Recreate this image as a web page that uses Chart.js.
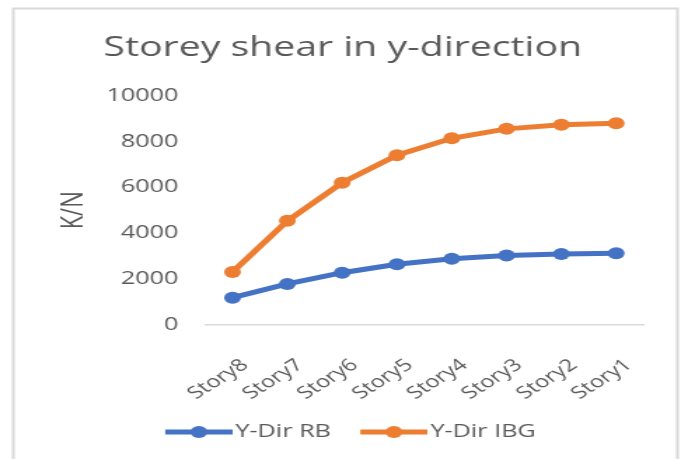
<!DOCTYPE html>
<html>
<head>
<meta charset="utf-8">
<script src="https://cdn.jsdelivr.net/npm/chart.js@4/dist/chart.umd.min.js"></script>
<style>
  html, body { margin: 0; padding: 0; background: #fff; overflow: hidden; }
  /* the reference is stretched sideways, so the chart is drawn narrow and scaled */
  #wrap { width: 486px; height: 459px; transform: scaleX(1.4012); transform-origin: 0 0; }
</style>
</head>
<body>
<div id="wrap"><canvas id="myChart"></canvas></div>
<script>
const stories = ["Story8", "Story7", "Story6", "Story5", "Story4", "Story3", "Story2", "Story1"];
const yDirRB = [1190, 1790, 2280, 2650, 2890, 3030, 3100, 3130];
const yDirIBG = [2310, 4540, 6200, 7400, 8140, 8550, 8730, 8790];
const yTicks = [0, 2000, 4000, 6000, 8000, 10000];

const blue = '#4472C4';
const orange = '#ED7D31';
const grey = '#595959';
const fontName = "'Open Sans', sans-serif";

// line + marker icon for the legend, like Excel's
function legendIcon(color) {
  const c = document.createElement('canvas');
  c.width = 66; c.height = 16;
  const g = c.getContext('2d');
  g.strokeStyle = color;
  g.lineWidth = 5;
  g.beginPath(); g.moveTo(18, 8); g.lineTo(66, 8); g.stroke();
  g.fillStyle = color;
  g.beginPath(); g.arc(42, 8, 6, 0, Math.PI * 2); g.fill();
  return c;
}

const frame = {
  id: 'frame',
  beforeDraw(chart) {
    const ctx = chart.ctx;
    ctx.save();
    ctx.strokeStyle = '#d9d9d9';
    ctx.lineWidth = 2;
    ctx.strokeRect(9.5, 8.5, 474, 480);
    ctx.restore();
  }
};

const ctx = document.getElementById('myChart').getContext('2d');
const myChart = new Chart(ctx, {
  type: 'line',
  data: {
    labels: stories,
    datasets: [{
      label: 'Y-Dir RB',
      data: yDirRB,
      borderColor: blue,
      backgroundColor: blue,
      pointBackgroundColor: blue,
      borderWidth: 5,
      pointRadius: 6,
      pointBorderWidth: 0,
      tension: 0,
      fill: false
    }, {
      label: 'Y-Dir IBG',
      data: yDirIBG,
      borderColor: orange,
      backgroundColor: orange,
      pointBackgroundColor: orange,
      borderWidth: 5,
      pointRadius: 6,
      pointBorderWidth: 0,
      tension: 0,
      fill: false
    }]
  },
  options: {
    responsive: true,
    maintainAspectRatio: false,
    animation: false,
    layout: { padding: { left: 30, right: 26.7, top: 10, bottom: 8 } },
    plugins: {
      title: {
        display: true,
        text: 'Storey shear in y-direction',
        color: grey,
        font: { family: fontName, size: 28, weight: 'normal' },
        padding: { top: 21, bottom: 31 }
      },
      legend: {
        position: 'bottom',
        labels: {
          usePointStyle: true,
          pointStyleWidth: 52,
          padding: 10,
          color: grey,
          font: { family: fontName, size: 18 },
          generateLabels: chart => chart.data.datasets.map((ds, i) => ({
            text: ds.label,
            pointStyle: legendIcon(ds.borderColor),
            fillStyle: ds.borderColor,
            strokeStyle: ds.borderColor,
            lineWidth: 0,
            fontColor: grey,
            hidden: false,
            datasetIndex: i
          }))
        }
      },
      tooltip: { enabled: false }
    },
    scales: {
      x: {
        offset: true,
        grid: { display: false, drawTicks: false },
        border: { display: true, color: '#d9d9d9', width: 1.5 },
        ticks: {
          color: grey,
          font: { family: fontName, size: 17 },
          minRotation: 41,
          maxRotation: 41,
          padding: 30,
          labelOffset: 9
        },
        afterFit: scale => { scale.height = 88; }
      },
      y: {
        min: yTicks[0],
        max: yTicks[yTicks.length - 1],
        grid: { display: false, drawTicks: false },
        border: { display: false },
        ticks: {
          color: grey,
          font: { family: fontName, size: 18 },
          padding: 19,
          callback: v => String(v)
        },
        afterBuildTicks: scale => { scale.ticks = yTicks.map(v => ({ value: v })); },
        title: {
          display: true,
          text: 'K/N',
          color: grey,
          font: { family: fontName, size: 22 },
          padding: { top: 10, bottom: 0 }
        },
        afterFit: scale => { scale.width = 116.4; }
      }
    }
  },
  plugins: [frame]
});
</script>
</body>
</html>
